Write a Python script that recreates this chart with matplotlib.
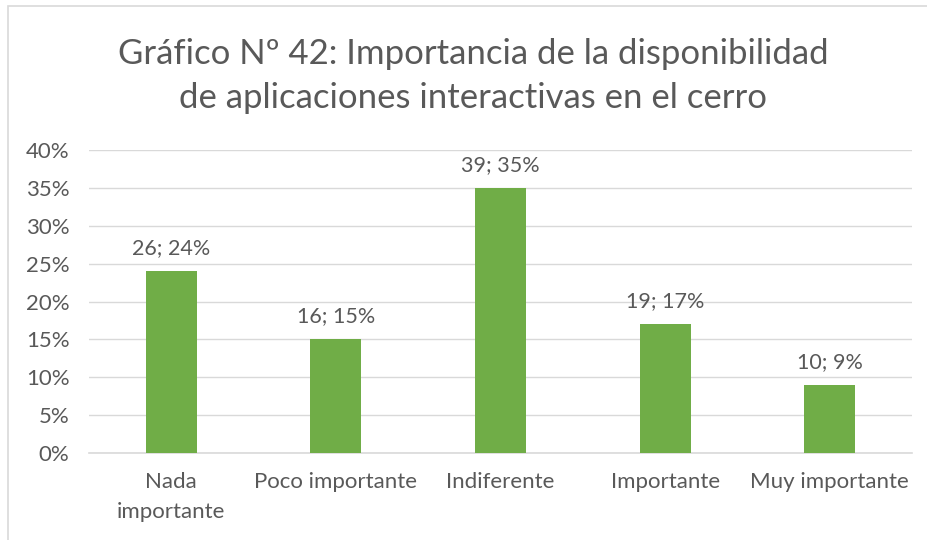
import matplotlib
matplotlib.use("Agg")
import matplotlib.pyplot as plt
from matplotlib.patches import Rectangle
from matplotlib.ticker import FuncFormatter, MultipleLocator

categories = ["Nada\nimportante", "Poco importante", "Indiferente", "Importante", "Muy importante"]
counts = [26, 16, 39, 19, 10]
percents = [24, 15, 35, 17, 9]

title = "Gráfico Nº 42: Importancia de la disponibilidad\nde aplicaciones interactivas en el cerro"

text_color = "#595959"
bar_color = "#70AD47"
grid_color = "#D9D9D9"

plt.rcParams["font.family"] = ["Lato", "DejaVu Sans"]

fig = plt.figure(figsize=(9.28, 5.40), dpi=100)
W, H = 928, 540
ax = fig.add_axes([89 / W, 1 - 453 / H, (912 - 89) / W, (453 - 150) / H])

x = list(range(len(categories)))
ax.bar(x, percents, width=0.31, color=bar_color, zorder=3)
for xi, c, p in zip(x, counts, percents):
    ax.text(xi, p + 1.7, f"{c}; {p}%", ha="center", va="bottom",
            fontsize=15.5, color=text_color)

ax.set_xlim(-0.5, len(categories) - 0.5)
ax.set_ylim(0, 40)
ax.yaxis.set_major_locator(MultipleLocator(5))
ax.yaxis.set_major_formatter(FuncFormatter(lambda v, _: f"{v:.0f}%"))
ax.grid(axis="y", color=grid_color, linewidth=1, zorder=0)
ax.set_xticks(x)
ax.set_xticklabels(categories, fontsize=16, color=text_color, linespacing=1.6)
ax.tick_params(axis="y", labelsize=16, labelcolor=text_color, length=0, pad=14)
ax.tick_params(axis="x", length=0, pad=14)
for s in ["top", "right", "left"]:
    ax.spines[s].set_visible(False)
ax.spines["bottom"].set_color(grid_color)
ax.spines["bottom"].set_linewidth(1.2)

fig.text(473 / W, 1 - 76 / H, title, ha="center", va="center",
         fontsize=25, color=text_color, linespacing=1.5)

# outer chart frame
fig.patches.append(Rectangle((8 / W, -0.05), 1.0, 1 - 6 / H + 0.05,
                             transform=fig.transFigure, fill=False,
                             edgecolor="#D9D9D9", linewidth=1.2))

fig.savefig("out.png", dpi=100)
